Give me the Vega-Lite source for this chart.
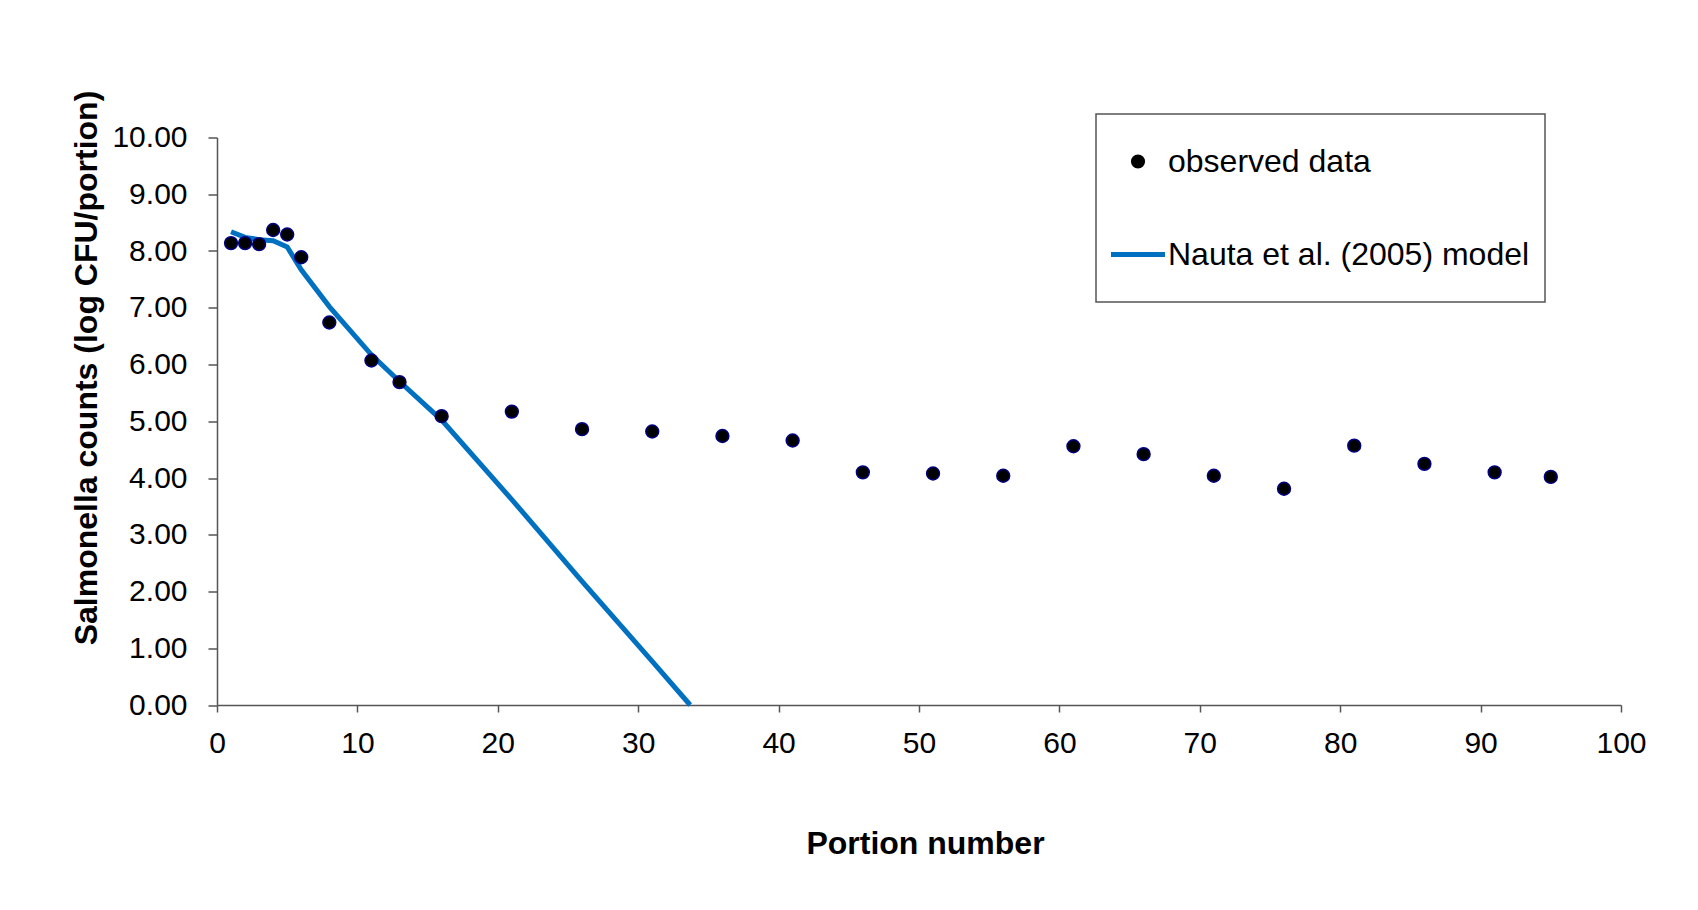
{
  "$schema": "https://vega.github.io/schema/vega-lite/v6.json",
  "width": 1404,
  "height": 567.5,
  "autosize": {"type": "none"},
  "padding": {"left": 217, "top": 137.5, "right": 77, "bottom": 205},
  "background": "white",
  "config": {
    "view": {"stroke": null},
    "font": "Liberation Sans",
    "axis": {
      "grid": false,
      "domainColor": "#555555",
      "domainWidth": 1.5,
      "tickColor": "#555555",
      "tickWidth": 1.5,
      "labelFont": "Liberation Sans",
      "labelFontSize": 30,
      "labelColor": "black",
      "labelFlush": false,
      "labelOverlap": false,
      "titleFont": "Liberation Sans",
      "titleFontSize": 32,
      "titleFontWeight": "bold",
      "titleColor": "black"
    }
  },
  "datasets": {
    "observed": [
      {"portion": 1, "count": 8.14},
      {"portion": 2, "count": 8.14},
      {"portion": 3, "count": 8.12},
      {"portion": 4, "count": 8.37},
      {"portion": 5, "count": 8.29},
      {"portion": 6, "count": 7.89},
      {"portion": 8, "count": 6.74},
      {"portion": 11, "count": 6.07},
      {"portion": 13, "count": 5.69},
      {"portion": 16, "count": 5.09},
      {"portion": 21, "count": 5.17},
      {"portion": 26, "count": 4.86},
      {"portion": 31, "count": 4.82},
      {"portion": 36, "count": 4.74},
      {"portion": 41, "count": 4.66},
      {"portion": 46, "count": 4.10},
      {"portion": 51, "count": 4.08},
      {"portion": 56, "count": 4.04},
      {"portion": 61, "count": 4.56},
      {"portion": 66, "count": 4.42},
      {"portion": 71, "count": 4.04},
      {"portion": 76, "count": 3.81},
      {"portion": 81, "count": 4.57},
      {"portion": 86, "count": 4.25},
      {"portion": 91, "count": 4.10},
      {"portion": 95, "count": 4.02}
    ],
    "model": [
      {"portion": 1, "count": 8.34},
      {"portion": 2, "count": 8.24},
      {"portion": 3, "count": 8.20},
      {"portion": 4, "count": 8.18},
      {"portion": 5, "count": 8.07},
      {"portion": 6, "count": 7.67},
      {"portion": 8, "count": 7.02},
      {"portion": 11, "count": 6.17},
      {"portion": 13, "count": 5.70},
      {"portion": 16, "count": 5.02},
      {"portion": 21, "count": 3.62},
      {"portion": 26, "count": 2.18},
      {"portion": 31, "count": 0.77},
      {"portion": 33.7, "count": 0}
    ]
  },
  "encoding": {
    "x": {
      "field": "portion",
      "type": "quantitative",
      "scale": {"domain": [0, 100], "nice": false},
      "axis": {
        "title": "Portion number",
        "values": [0, 10, 20, 30, 40, 50, 60, 70, 80, 90, 100],
        "tickSize": 7,
        "labelPadding": 16,
        "titlePadding": 70,
        "titleX": 708
      }
    },
    "y": {
      "field": "count",
      "type": "quantitative",
      "scale": {"domain": [0, 10], "nice": false},
      "axis": {
        "title": "Salmonella counts (log CFU/portion)",
        "values": [0, 1, 2, 3, 4, 5, 6, 7, 8, 9, 10],
        "format": ".2f",
        "tickSize": 9,
        "labelPadding": 21,
        "titlePadding": 8,
        "titleY": 230
      }
    }
  },
  "layer": [
    {
      "data": {"name": "model"},
      "mark": {"type": "line", "strokeWidth": 5, "strokeCap": "butt"},
      "encoding": {
        "color": {
          "datum": "Nauta et al. (2005) model",
          "type": "nominal",
          "scale": {
            "domain": ["observed data", "Nauta et al. (2005) model"],
            "range": ["black", "#0070C0"]
          },
          "legend": {
            "title": null,
            "orient": "none",
            "legendX": 879,
            "legendY": -23.5,
            "padding": 15,
            "strokeColor": "#555555",
            "fillColor": "white",
            "labelFont": "Liberation Sans",
            "labelFontSize": 32,
            "labelColor": "black",
            "labelLimit": 600,
            "labelOffset": 14,
            "symbolOffset": 11,
            "symbolSize": 2916,
            "clipHeight": 65,
            "rowPadding": 28,
            "encode": {
              "legend": {
                "update": {"strokeWidth": {"value": 1.5}}
              },
              "symbols": {
                "update": {
                  "shape": {"signal": "datum.value === 'observed data' ? 'circle' : 'stroke'"},
                  "fill": {"signal": "datum.value === 'observed data' ? 'black' : 'transparent'"},
                  "stroke": {"signal": "datum.value === 'observed data' ? '#000080' : '#0070C0'"},
                  "strokeWidth": {"signal": "datum.value === 'observed data' ? 1.5 : 5"},
                  "size": {"signal": "datum.value === 'observed data' ? 160 : 2916"},
                  "opacity": {"value": 1}
                }
              }
            }
          }
        }
      }
    },
    {
      "data": {"name": "observed"},
      "mark": {"type": "point", "filled": true, "shape": "circle", "size": 165, "stroke": "#000080", "strokeWidth": 1.5, "opacity": 1},
      "encoding": {
        "color": {"datum": "observed data", "type": "nominal"}
      }
    }
  ]
}
